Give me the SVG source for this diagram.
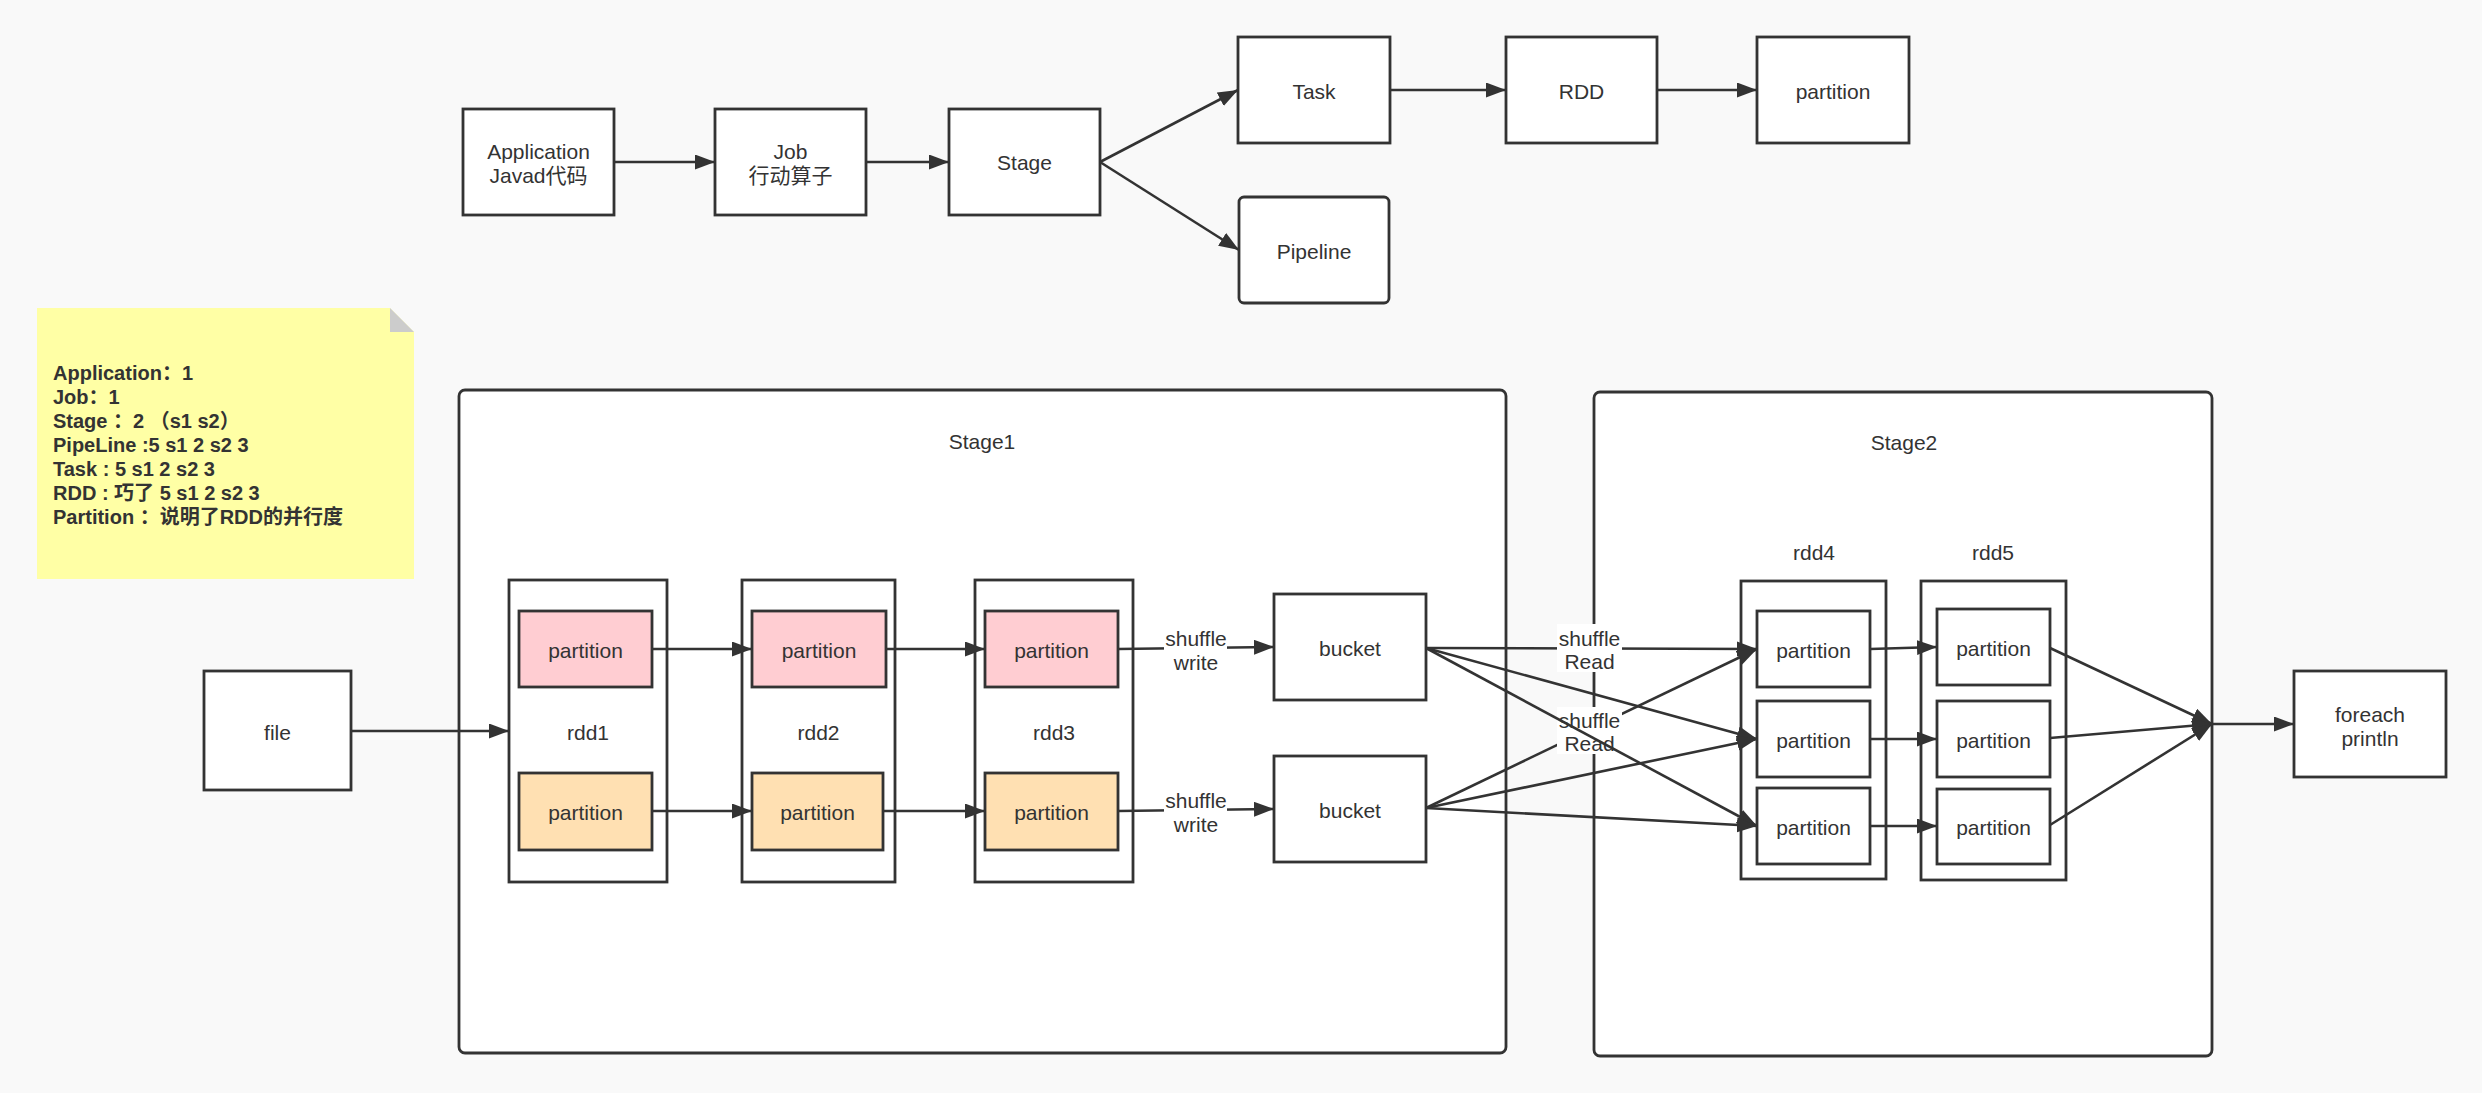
<svg xmlns="http://www.w3.org/2000/svg" width="2482" height="1093" viewBox="0 0 2482 1093">
<style>
.t{font-family:"Liberation Sans","Noto Sans CJK SC",sans-serif;font-size:21px;fill:#333333;text-anchor:middle}
.n{font-family:"Liberation Sans","Noto Sans CJK SC",sans-serif;font-size:20px;font-weight:bold;fill:#333333}
.box{fill:#ffffff;stroke:#333333;stroke-width:2.8}
.pk{fill:#ffcdd2;stroke:#333333;stroke-width:2.8}
.or{fill:#ffe0b2;stroke:#333333;stroke-width:2.8}
.e{fill:none;stroke:#333333;stroke-width:2.6;marker-end:url(#arr)}
.lb{fill:#ffffff}
</style>
<defs>
<marker id="arr" markerUnits="userSpaceOnUse" markerWidth="21" markerHeight="16" refX="20" refY="7.5" orient="auto" viewBox="0 0 21 16">
<path d="M0,0 L20,7.5 L0,15 Z" fill="#333333"/>
</marker>
</defs>
<rect x="0" y="0" width="2482" height="1093" fill="#f9f9f9"/>

<g id="note">
<polygon points="37,308 390,308 414,332 414,579 37,579" fill="#ffffa5"/>
<polygon points="390,308 390,332 414,332" fill="#cccccc"/>
<text class="n" x="53" y="380">Application：1</text>
<text class="n" x="53" y="404">Job：1</text>
<text class="n" x="53" y="428">Stage ：2 （s1 s2）</text>
<text class="n" x="53" y="452">PipeLine :5 s1 2 s2 3</text>
<text class="n" x="53" y="476">Task : 5 s1 2 s2 3</text>
<text class="n" x="53" y="500">RDD : 巧了 5 s1 2 s2 3</text>
<text class="n" x="53" y="524">Partition ：说明了RDD的并行度</text>
</g>

<g id="application"><rect class="box" x="463" y="109" width="151" height="106"/><text class="t" x="538.5" y="159">Application</text><text class="t" x="538.5" y="183">Javad代码</text></g>
<g id="job"><rect class="box" x="715" y="109" width="151" height="106"/><text class="t" x="790.5" y="159">Job</text><text class="t" x="790.5" y="183">行动算子</text></g>
<g id="stage"><rect class="box" x="949" y="109" width="151" height="106"/><text class="t" x="1024.5" y="170">Stage</text></g>
<g id="task"><rect class="box" x="1238" y="37" width="152" height="106"/><text class="t" x="1314" y="99">Task</text></g>
<g id="rdd"><rect class="box" x="1506" y="37" width="151" height="106"/><text class="t" x="1581.5" y="99">RDD</text></g>
<g id="partition-top"><rect class="box" x="1757" y="37" width="152" height="106"/><text class="t" x="1833" y="99">partition</text></g>
<g id="pipeline"><rect class="box" x="1239" y="197" width="150" height="106" rx="5"/><text class="t" x="1314" y="259">Pipeline</text></g>

<g id="stage1"><rect class="box" x="459" y="390" width="1047" height="663" rx="6"/><text class="t" x="982" y="449">Stage1</text></g>
<g id="stage2"><rect class="box" x="1594" y="392" width="618" height="664" rx="6"/><text class="t" x="1904" y="450">Stage2</text></g>

<g id="file"><rect class="box" x="204" y="671" width="147" height="119"/><text class="t" x="277.5" y="740">file</text></g>

<g id="rdd1"><rect class="box" x="509" y="580" width="158" height="302"/><text class="t" x="588" y="740">rdd1</text>
<g id="rdd1-p1"><rect class="pk" x="519" y="611" width="133" height="76"/><text class="t" x="585.5" y="658">partition</text></g>
<g id="rdd1-p2"><rect class="or" x="519" y="773" width="133" height="77"/><text class="t" x="585.5" y="820">partition</text></g>
</g>
<g id="rdd2"><rect class="box" x="742" y="580" width="153" height="302"/><text class="t" x="818.5" y="740">rdd2</text>
<g id="rdd2-p1"><rect class="pk" x="752" y="611" width="134" height="76"/><text class="t" x="819" y="658">partition</text></g>
<g id="rdd2-p2"><rect class="or" x="752" y="773" width="131" height="77"/><text class="t" x="817.5" y="820">partition</text></g>
</g>
<g id="rdd3"><rect class="box" x="975" y="580" width="158" height="302"/><text class="t" x="1054" y="740">rdd3</text>
<g id="rdd3-p1"><rect class="pk" x="985" y="611" width="133" height="76"/><text class="t" x="1051.5" y="658">partition</text></g>
<g id="rdd3-p2"><rect class="or" x="985" y="773" width="133" height="77"/><text class="t" x="1051.5" y="820">partition</text></g>
</g>

<g id="bucket1"><rect class="box" x="1274" y="594" width="152" height="106"/><text class="t" x="1350" y="656">bucket</text></g>
<g id="bucket2"><rect class="box" x="1274" y="756" width="152" height="106"/><text class="t" x="1350" y="818">bucket</text></g>

<g id="rdd4"><text class="t" x="1814" y="560">rdd4</text><rect class="box" x="1741" y="581" width="145" height="298"/>
<g id="rdd4-p1"><rect class="box" x="1757" y="611" width="113" height="76"/><text class="t" x="1813.5" y="658">partition</text></g>
<g id="rdd4-p2"><rect class="box" x="1757" y="701" width="113" height="76"/><text class="t" x="1813.5" y="748">partition</text></g>
<g id="rdd4-p3"><rect class="box" x="1757" y="788" width="113" height="76"/><text class="t" x="1813.5" y="835">partition</text></g>
</g>
<g id="rdd5"><text class="t" x="1993" y="560">rdd5</text><rect class="box" x="1921" y="581" width="145" height="299"/>
<g id="rdd5-p1"><rect class="box" x="1937" y="609" width="113" height="76"/><text class="t" x="1993.5" y="656">partition</text></g>
<g id="rdd5-p2"><rect class="box" x="1937" y="701" width="113" height="76"/><text class="t" x="1993.5" y="748">partition</text></g>
<g id="rdd5-p3"><rect class="box" x="1937" y="789" width="113" height="75"/><text class="t" x="1993.5" y="835">partition</text></g>
</g>

<g id="foreach"><rect class="box" x="2294" y="671" width="152" height="106"/><text class="t" x="2370" y="722">foreach</text><text class="t" x="2370" y="746">println</text></g>

<g id="connectors">
<path class="e" d="M614,162 L715,162"/>
<path class="e" d="M866,162 L949,162"/>
<path class="e" d="M1100,162 L1238,90"/>
<path class="e" d="M1100,162 L1239,250"/>
<path class="e" d="M1390,90 L1506,90"/>
<path class="e" d="M1657,90 L1757,90"/>

<path class="e" d="M351,731 L509,731"/>
<path class="e" d="M652,649 L752,649"/>
<path class="e" d="M652,811 L752,811"/>
<path class="e" d="M886,649 L985,649"/>
<path class="e" d="M883,811 L985,811"/>

<path class="e" d="M1118,649 L1274,647"/>
<rect class="lb" x="1164" y="626" width="63" height="50"/>
<text class="t" x="1196" y="646">shuffle</text><text class="t" x="1196" y="670">write</text>
<path class="e" d="M1118,811 L1274,809"/>
<rect class="lb" x="1164" y="788" width="63" height="50"/>
<text class="t" x="1196" y="808">shuffle</text><text class="t" x="1196" y="832">write</text>

<path class="e" d="M1426,648 L1757,649"/>
<rect class="lb" x="1557" y="624" width="65" height="48"/>
<text class="t" x="1589.5" y="646">shuffle</text><text class="t" x="1589.5" y="669">Read</text>
<path class="e" d="M1426,808 L1757,649"/>
<rect class="lb" x="1557" y="707" width="65" height="47"/>
<text class="t" x="1589.5" y="728">shuffle</text><text class="t" x="1589.5" y="751">Read</text>
<path class="e" d="M1426,648 L1757,739"/>
<path class="e" d="M1426,648 L1757,826"/>
<path class="e" d="M1426,808 L1757,739"/>
<path class="e" d="M1426,808 L1757,826"/>

<path class="e" d="M1870,649 L1937,647"/>
<path class="e" d="M1870,739 L1937,739"/>
<path class="e" d="M1870,826 L1937,826"/>

<path class="e" d="M2050,648 L2212,724"/>
<path class="e" d="M2050,738 L2212,724"/>
<path class="e" d="M2050,825 L2212,724"/>
<path class="e" d="M2212,724 L2294,724"/>
</g>
</svg>
